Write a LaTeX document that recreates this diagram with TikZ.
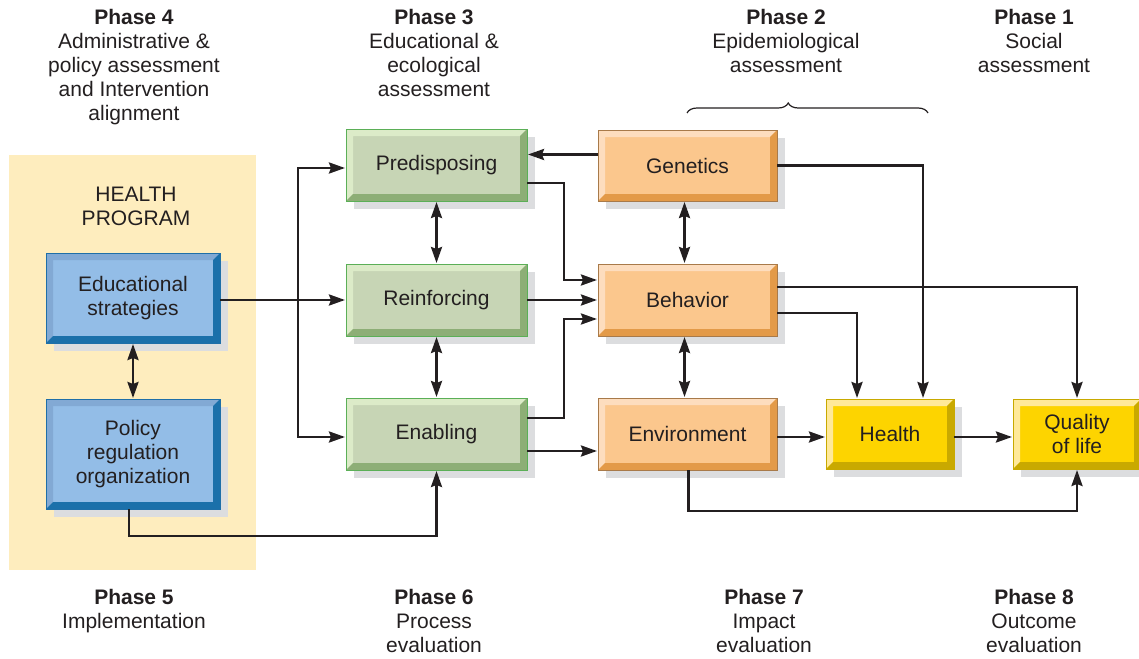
\documentclass[tikz,border=0pt]{standalone}
\usepackage{fontspec}
\setmainfont{Liberation Sans}
\usetikzlibrary{arrows.meta,calc,decorations.pathreplacing}
\definecolor{txt}{HTML}{231F20}
\definecolor{bgy}{HTML}{FEEDBE}
\definecolor{shadowc}{HTML}{DCDDDF}
\definecolor{bface}{HTML}{93BDE7}
\definecolor{blight}{HTML}{82A9D4}
\definecolor{bdark}{HTML}{1B70AA}
\definecolor{bline}{HTML}{1F6FA8}
\definecolor{gface}{HTML}{C7D5B5}
\definecolor{glight}{HTML}{DCEBC8}
\definecolor{gdark}{HTML}{8DAE76}
\definecolor{gline}{HTML}{5BAF57}
\definecolor{oface}{HTML}{FBC78D}
\definecolor{olight}{HTML}{FDDDBE}
\definecolor{odark}{HTML}{E39A48}
\definecolor{oline}{HTML}{A87A4A}
\definecolor{yface}{HTML}{FDD400}
\definecolor{ylight}{HTML}{FFE99A}
\definecolor{ydark}{HTML}{C9A900}
\definecolor{yline}{HTML}{C8A900}
\tikzset{
  x=1pt, y=-1pt,
  lbl/.style={font=\fontsize{21}{24}\selectfont, text=txt, align=center, inner sep=0pt, anchor=north},
  bev/.style n args={4}{fill=#1, draw=#4, line width=1pt, inner sep=0pt, outer sep=0pt,
    font=\fontsize{21}{24}\selectfont, text=txt, align=center,
    path picture={
      \coordinate (nw) at (path picture bounding box.north west);
      \coordinate (ne) at (path picture bounding box.north east);
      \coordinate (sw) at (path picture bounding box.south west);
      \coordinate (se) at (path picture bounding box.south east);
      \fill[#2] (nw) -- (ne) -- ([shift={(-7pt,-7pt)}]ne) -- ([shift={(7pt,-7pt)}]nw)
        -- ([shift={(7pt,7pt)}]sw) -- (sw) -- cycle;
      \fill[#3] (se) -- (ne) -- ([shift={(-7pt,-7pt)}]ne) -- ([shift={(-7pt,7pt)}]se)
        -- ([shift={(7pt,7pt)}]sw) -- (sw) -- cycle;
    }},
  bluebox/.style={bev={bface}{blight}{bdark}{bline}},
  greenbox/.style={bev={gface}{glight}{gdark}{gline}},
  orangebox/.style={bev={oface}{olight}{odark}{oline}},
  yellowbox/.style={bev={yface}{ylight}{ydark}{yline}},
  tip/.style={Stealth[length=16pt,width=11pt,inset=2pt]},
  arr/.style={draw=txt, line width=2.6pt, -{Stealth[length=16pt,width=11pt,inset=2pt]}, shorten >=1pt},
  darr/.style={draw=txt, line width=2.6pt, {Stealth[length=16pt,width=11pt,inset=2pt]}-{Stealth[length=16pt,width=11pt,inset=2pt]}, shorten >=1pt, shorten <=1pt},
}
\newcommand\bx[7]{%
  \fill[shadowc] (#2+8,#3+8) rectangle (#4+8,#5+8);
  \node[#6, minimum width={(#4-#2)*1pt}, minimum height={(#5-#3)*1pt}] (#1) at ({(#2+#4)/2},{(#3+#5)/2}) {#7};
}
\begin{document}
\begin{tikzpicture}
\useasboundingbox (0,0) rectangle (1139,658);
\fill[bgy] (9,155) rectangle (256,570);

% phase labels
\node[lbl] (p4) at (134,9) {\textbf{Phase 4}\\Administrative \&\\policy assessment\\and Intervention\\alignment};
\node[lbl] (p3) at (434,9) {\textbf{Phase 3}\\Educational \&\\ecological\\assessment};
\node[lbl] (p2) at (786,9) {\textbf{Phase 2}\\Epidemiological\\assessment};
\node[lbl] (p1) at (1034,9) {\textbf{Phase 1}\\Social\\assessment};
\node[lbl] (p5) at (134,589) {\textbf{Phase 5}\\Implementation};
\node[lbl] (p6) at (434,589) {\textbf{Phase 6}\\Process\\evaluation};
\node[lbl] (p7) at (764,589) {\textbf{Phase 7}\\Impact\\evaluation};
\node[lbl] (p8) at (1034,589) {\textbf{Phase 8}\\Outcome\\evaluation};
\node[lbl] (hp) at (136,187) {HEALTH\\PROGRAM};

\draw[txt, line width=1.2pt, decorate, decoration={brace, amplitude=10pt, aspect=0.42}] (687,113) -- (928,113);

% boxes
\bx{edu}{46}{253}{220}{343}{bluebox}{Educational\\strategies}
\bx{pol}{46}{399}{220}{509}{bluebox}{Policy\\regulation\\organization}
\bx{pre}{346}{129}{527}{201}{greenbox}{Predisposing}
\bx{rei}{346}{264}{527}{336}{greenbox}{Reinforcing}
\bx{ena}{346}{398}{527}{470}{greenbox}{Enabling}
\bx{gen}{598}{130}{777}{201}{orangebox}{Genetics}
\bx{beh}{598}{264}{777}{336}{orangebox}{Behavior}
\bx{env}{598}{398}{777}{470}{orangebox}{Environment}
\bx{hea}{826}{399}{954}{469}{yellowbox}{Health}
\bx{qol}{1013}{399}{1141}{469}{yellowbox}{Quality\\of life}

% connectors
\coordinate (tk) at (298,300);
\draw[arr] (edu.east |- rei.west) -- (rei.west);
\draw[arr] (tk) |- ([yshift=-3pt]pre.west);
\draw[arr] (tk) |- ([yshift=-3pt]ena.west);
\draw[darr] (edu.south) -- (pol.north);
\draw[arr] ([xshift=-4pt]pol.south) -- ++(0,-27pt) -| (ena.south);
\draw[darr] (pre.south) -- (rei.north);
\draw[darr] (rei.south) -- (ena.north);

\draw[arr] ([yshift=11pt]gen.west) -- ([yshift=11pt]gen.west -| pre.east);
\draw[arr] ([yshift=-18pt]pre.east) -- ++(37pt,0) |- ([yshift=20pt]beh.west);
\draw[arr] (rei.east) -- (beh.west);
\draw[arr] ([yshift=16pt]ena.east) -- ++(37pt,0) |- ([yshift=-19pt]beh.west);
\draw[arr] ([yshift=-17pt]ena.east) -- ([yshift=-17pt]env.west);
\draw[darr] ([xshift=-3pt]gen.south) -- ([xshift=-3pt]beh.north);
\draw[darr] ([xshift=-3pt]beh.south) -- ([xshift=-3pt]env.north);

\draw[arr] (gen.east) -| ([xshift=33pt]hea.north);
\draw[arr] ([yshift=13pt]beh.east) -| (qol.north);
\draw[arr] ([yshift=-13pt]beh.east) -| ([xshift=-33pt]hea.north);
\draw[arr] ([yshift=-3pt]env.east) -- ([yshift=-3pt]hea.west);
\draw[arr] ([yshift=-3pt]hea.east) -- ([yshift=-3pt]qol.west);
\draw[arr] ([xshift=1pt]env.south) -- ++(0,-41pt) -| (qol.south);
\end{tikzpicture}
\end{document}
